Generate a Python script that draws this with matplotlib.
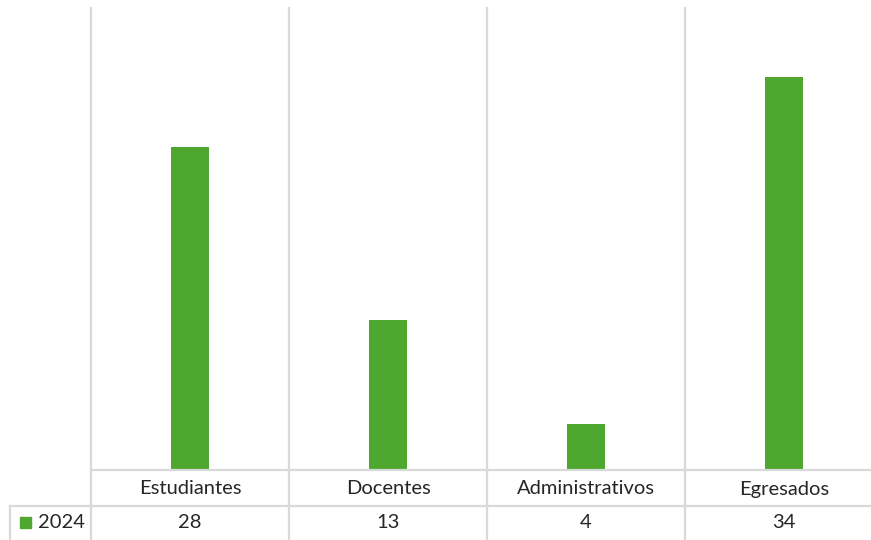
import matplotlib.pyplot as plt
from matplotlib.lines import Line2D
from matplotlib.patches import Rectangle

categorias = ['Estudiantes', 'Docentes', 'Administrativos', 'Egresados']
valores_2024 = [28, 13, 4, 34]
serie = '2024'

verde = '#4ea72e'
gris = '#d9d9d9'
texto = '#262626'

plt.rcParams['font.family'] = ['Lato', 'DejaVu Sans']

W, H = 871, 540
fig = plt.figure(figsize=(W / 100, H / 100), dpi=100)

# plot area in pixels: x 91..883, y 8..470
x0, x1, y0, y1 = 91, 883, 8, 470
ax = fig.add_axes([x0 / W, 1 - y1 / H, (x1 - x0) / W, (y1 - y0) / H])

pos = list(range(len(categorias)))
ax.bar(pos, valores_2024, width=0.187, color=verde, zorder=3)
ax.set_xlim(-0.5, len(categorias) - 0.5)
ax.set_ylim(0, 40)
ax.axis('off')

# rows of the data table (in axes fraction)
alto = y1 - y0
fila1 = -(506 - y1) / alto
fila2 = -(545 - y1) / alto

lw = 1.6
for i in range(len(categorias) + 1):
    ax.plot([i - 0.5, i - 0.5], [1, fila2], color=gris, lw=lw,
            transform=ax.get_xaxis_transform(), clip_on=False, zorder=1)

# horizontal lines of the table
fig.add_artist(Line2D([x0 / W, 1], [1 - y1 / H] * 2, color=gris, lw=lw))
fig.add_artist(Line2D([10 / W, 1], [1 - 506 / H] * 2, color=gris, lw=lw))
fig.add_artist(Line2D([10 / W] * 2, [1 - 506 / H, 0], color=gris, lw=lw))

fs = 14.5
tr = ax.get_xaxis_transform()
y_cat = -(489 - y1) / alto
y_val = -(523 - y1) / alto
for i, cat in enumerate(categorias):
    ax.text(i, y_cat, cat, ha='center', va='center', fontsize=fs,
            color=texto, transform=tr, clip_on=False)
    ax.text(i, y_val, str(valores_2024[i]), ha='center',
            va='center', fontsize=fs, color=texto, transform=tr, clip_on=False)

# legend key + series name in the first column
fig.add_artist(Rectangle((20 / W, 1 - 528 / H), 11 / W, 11 / H,
                         color=verde, transform=fig.transFigure))
fig.text(38 / W, 1 - 523 / H, serie, ha='left', va='center', fontsize=fs,
         color=texto)

fig.savefig('out.png', dpi=100)
